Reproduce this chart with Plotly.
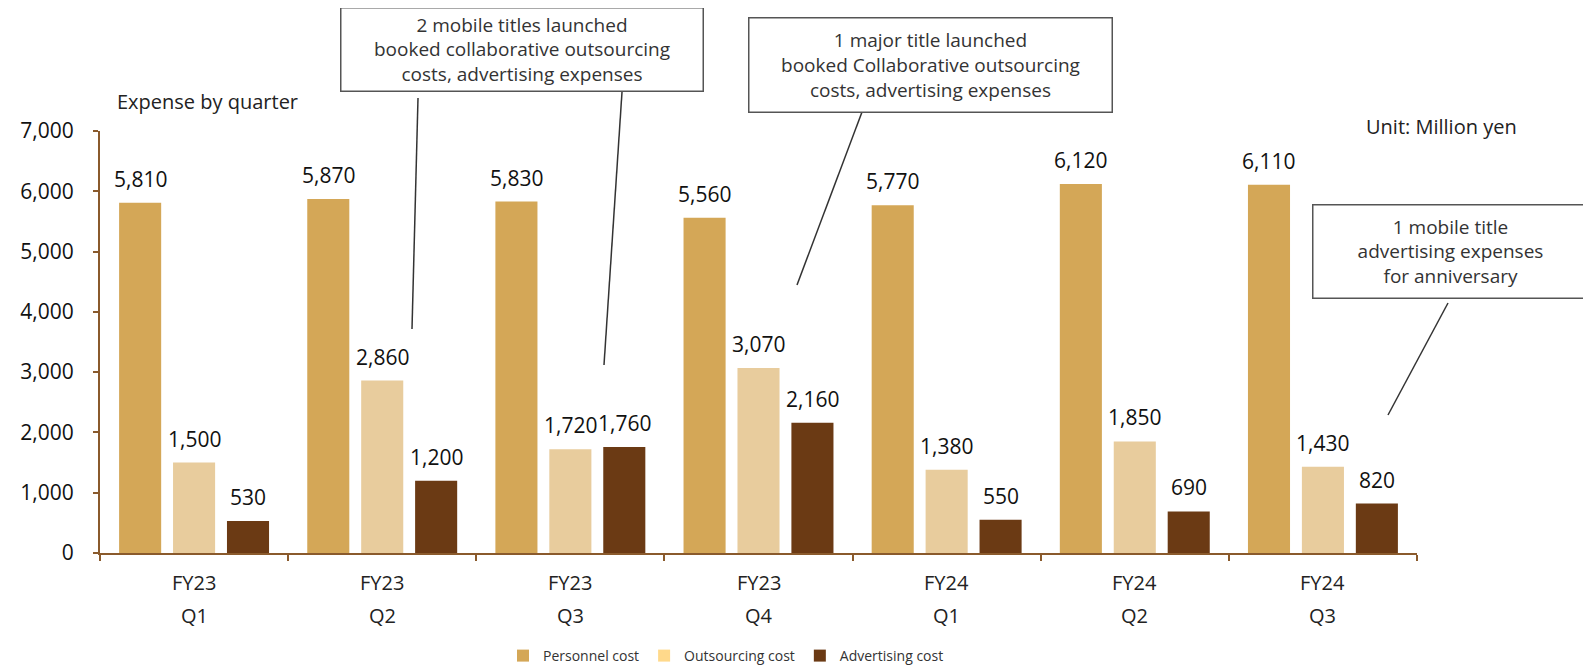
import plotly.graph_objects as go

fy = ["FY23", "FY23", "FY23", "FY23", "FY24", "FY24", "FY24"]
qs = ["Q1", "Q2", "Q3", "Q4", "Q1", "Q2", "Q3"]
categories = [f"{a} {b}" for a, b in zip(fy, qs)]
personnel = [5810, 5870, 5830, 5560, 5770, 6120, 6110]
outsourcing = [1500, 2860, 1720, 3070, 1380, 1850, 1430]
advertising = [530, 1200, 1760, 2160, 550, 690, 820]
series_names = ["Personnel cost", "Outsourcing cost", "Advertising cost"]
y_ticks = [0, 1000, 2000, 3000, 4000, 5000, 6000, 7000]

bar_colors = ["#D4A757", "#E8CC9D", "#6B3A14"]
legend_colors = ["#D4A757", "#FFD98B", "#6B3A14"]
AXIS = "#8A5A2C"
FONT = "Open Sans"

W, H = 1591, 666
OFF = 8  # page body margin
L = 100 - OFF
T = 131 - OFF
R = W - (1417 - OFF)
B = H - (553 - OFF)
PW, PH = W - L - R, H - T - B


def px_x(p):
    return (p - OFF - L) / PW


def px_y(p):
    return (H - B - (p - OFF)) / PH


BARGAP = 0.14
BARGROUPGAP = 0.22

fig = go.Figure()
all_series = [personnel, outsourcing, advertising]
for k, (name, vals, col) in enumerate(zip(series_names, all_series, bar_colors)):
    fig.add_trace(go.Bar(x=categories, y=vals, name=name, marker_color=col,
                         marker_line_width=0, showlegend=False,
                         offsetgroup=str(k)))
for k, (name, col) in enumerate(zip(series_names, legend_colors)):
    fig.add_trace(go.Bar(x=[categories[0]], y=[0], name=name, marker_color=col,
                         marker_line_width=0, showlegend=True,
                         offsetgroup=str(k), hoverinfo="skip"))

annotations = []
slot = (1 - BARGAP) / 3
for j, vals in enumerate(all_series):
    for i, v in enumerate(vals):
        annotations.append(dict(x=i + (j - 1) * slot, y=v, xref="x", yref="y",
                                text=f"{v:,}", showarrow=False, yshift=24,
                                yanchor="middle",
                                font=dict(family=FONT, size=21, color="#111")))

for i, (a, b) in enumerate(zip(fy, qs)):
    annotations.append(dict(x=i, y=px_y(582), xref="x", yref="paper", text=a,
                            showarrow=False, yanchor="middle",
                            font=dict(family=FONT, size=20, color="#222")))
    annotations.append(dict(x=i, y=px_y(615), xref="x", yref="paper", text=b,
                            showarrow=False, yanchor="middle",
                            font=dict(family=FONT, size=20, color="#222")))

annotations.append(dict(x=px_x(115), y=px_y(102), xref="paper", yref="paper",
                        text="Expense by quarter", showarrow=False,
                        xanchor="left", yanchor="middle",
                        font=dict(family=FONT, size=20, color="#222")))
annotations.append(dict(x=px_x(1441), y=px_y(126), xref="paper", yref="paper",
                        text="Unit: Million yen", showarrow=False,
                        xanchor="center", yanchor="middle",
                        font=dict(family=FONT, size=20, color="#222")))

boxes = [
    ("2 mobile titles launched<br>booked collaborative outsourcing<br>costs, advertising expenses",
     340, 703, 7, 91),
    ("1 major title launched<br>booked Collaborative outsourcing<br>costs, advertising expenses",
     748, 1112, 17, 112),
    ("1 mobile title<br>advertising expenses<br>for anniversary",
     1312, 1588, 204, 298),
]
for text, x0, x1, y0, y1 in boxes:
    annotations.append(dict(x=px_x((x0 + x1) / 2), y=px_y((y0 + y1) / 2),
                            xref="paper", yref="paper", text=text,
                            showarrow=False, xanchor="center", yanchor="middle",
                            width=x1 - x0 - 2, height=y1 - y0 - 2, borderpad=0,
                            bordercolor="#555", borderwidth=1.5, bgcolor="white",
                            align="center",
                            font=dict(family=FONT, size=19, color="#333")))

connectors = [
    (418, 98, 412, 329),
    (622, 92, 604, 365),
    (862, 112, 797, 285),
    (1448, 303, 1388, 415),
]
shapes = []
for x0, y0, x1, y1 in connectors:
    shapes.append(dict(type="line", xref="paper", yref="paper",
                       x0=px_x(x0), y0=px_y(y0), x1=px_x(x1), y1=px_y(y1),
                       line=dict(color="#333", width=1.5)))

fig.update_layout(
    width=W, height=H,
    margin=dict(l=L, r=R, t=T, b=B, pad=0, autoexpand=False),
    paper_bgcolor="white", plot_bgcolor="white",
    barmode="group", bargap=BARGAP, bargroupgap=BARGROUPGAP,
    font=dict(family=FONT, color="#222"),
    annotations=annotations, shapes=shapes,
    legend=dict(orientation="h", x=px_x(726), xanchor="center",
                y=px_y(656), yanchor="middle",
                font=dict(family=FONT, size=14, color="#333"),
                itemwidth=30, tracegroupgap=0),
)
fig.update_xaxes(showline=True, linecolor=AXIS, linewidth=2, ticks="outside",
                 tickson="boundaries", ticklen=6, tickwidth=2, tickcolor=AXIS,
                 showticklabels=False, showgrid=False, zeroline=False,
                 categoryorder="array", categoryarray=categories)
fig.update_yaxes(range=[0, 7000], tickvals=y_ticks, tickformat=",",
                 showline=True, linecolor=AXIS, linewidth=2, ticks="outside",
                 ticklen=5, tickwidth=2, tickcolor=AXIS, showgrid=False,
                 zeroline=False, ticklabelstandoff=15,
                 tickfont=dict(family=FONT, size=21, color="#111"))

fig.write_html("out.html")
